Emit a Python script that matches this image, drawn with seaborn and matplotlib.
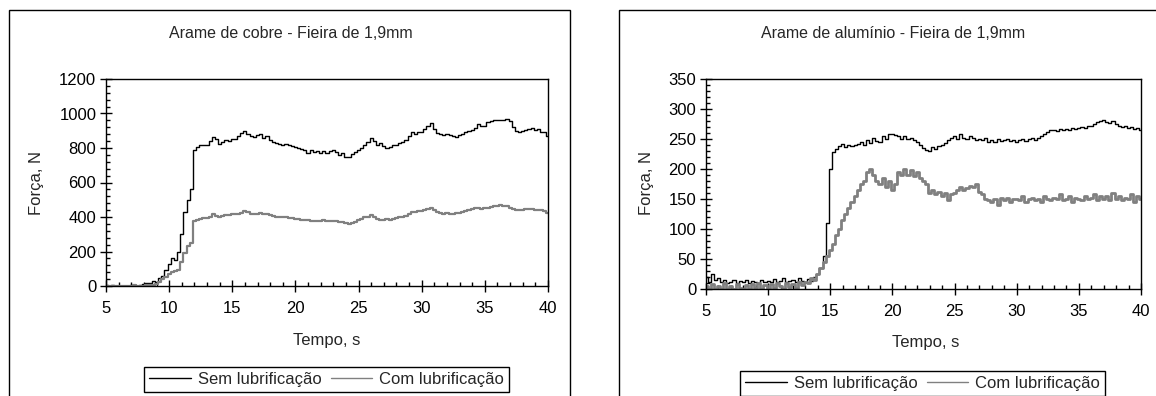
import numpy as np
import pandas as pd
import matplotlib
matplotlib.use("Agg")
import matplotlib.pyplot as plt
from matplotlib.patches import Rectangle
from matplotlib.ticker import MultipleLocator
import seaborn as sns

# ---------------- data (0.25 s sampling) ----------------
tempo = np.arange(5.0, 40.0001, 0.25)

cobre_sem = [
    8, 0, 5, 0,  0, 0, 0, 0,  5, 0, 0, 8,  10, 20, 15, 30,
    25, 45, 60, 90,  130, 160, 150, 200,  300, 430, 500, 560,
    790, 805, 820, 815,  820, 840, 865, 850,  825, 835, 845, 840,
    850, 855, 870, 885,  900, 880, 870, 865,  875, 880, 860, 870,
    845, 835, 830, 825,  820, 825, 815, 810,  805, 800, 795, 790,
    770, 790, 775, 780,  770, 785, 770, 780,  790, 775, 760, 770,
    745, 750, 765, 775,  790, 800, 815, 835,  860, 840, 820, 830,
    810, 800, 805, 815,  820, 830, 835, 845,  870, 890, 880, 895,
    895, 910, 925, 945,  910, 885, 880, 875,  880, 875, 870, 865,
    875, 880, 895, 900,  905, 915, 940, 930,  925, 950, 955, 960,
    965, 960, 965, 970,  955, 920, 900, 895,  900, 905, 910, 915,
    905, 910, 895, 890,  870,
]
cobre_com = [
    0, 0, 0, 0,  0, 0, 0, 0,  0, 3, 0, 0,  0, 5, 8, 5,
    12, 25, 40, 55,  70, 80, 85, 95,  140, 190, 230, 250,
    375, 385, 390, 395,  395, 400, 415, 405,  400, 405, 410, 410,
    415, 415, 420, 425,  435, 430, 420, 418,  420, 425, 418, 415,
    410, 405, 400, 400,  400, 398, 395, 392,  390, 388, 385, 382,
    380, 378, 375, 378,  375, 380, 378, 376,  378, 375, 372, 370,
    365, 362, 368, 372,  385, 390, 398, 402,  410, 400, 390, 385,
    382, 388, 385, 390,  395, 398, 400, 408,  420, 428, 430, 432,
    435, 440, 445, 452,  440, 430, 425, 420,  422, 418, 420, 422,
    425, 428, 432, 440,  445, 450, 452, 448,  450, 455, 458, 462,
    465, 468, 466, 465,  455, 445, 440, 440,  442, 445, 448, 445,
    440, 442, 438, 432,  425,
]
aluminio_sem = [
    20, 12, 25, 15,  18, 12, 15, 10,  12, 15, 10, 14,  12, 15, 10, 14,
    12, 10, 15, 12,  14, 12, 16, 12,  13, 18, 12, 14,  15, 12, 18, 14,
    12, 16, 14, 20,  25, 35, 55, 110,  200, 228, 234, 238,
    242, 236, 240, 238,  240, 242, 245, 240,  248, 244, 252, 246,
    245, 255, 250, 258,  258, 256, 255, 250,  255, 250, 252, 248,
    245, 240, 235, 232,  230, 236, 234, 238,  240, 244, 248, 252,
    255, 250, 258, 252,  250, 255, 252, 248,  250, 248, 252, 245,
    248, 245, 250, 246,  248, 250, 246, 248,  245, 248, 250, 246,
    250, 252, 248, 252,  255, 258, 262, 265,  265, 264, 266, 265,
    266, 265, 268, 266,  268, 270, 269, 272,  272, 275, 278, 280,
    282, 278, 276, 280,  275, 272, 270, 272,  268, 270, 266, 268,
    265,
]
aluminio_com = [
    5, 0, 8, 0,  5, 0, 10, 0,  5, 0, 8, 2,  0, 6, 0, 8,
    2, 10, 0, 6,  0, 8, 2, 10,  5, 0, 10, 4,  8, 2, 12, 6,
    12, 10, 18, 15,  25, 35, 45, 55,  65, 75, 90, 100,
    115, 125, 135, 145,  155, 165, 175, 180,  195, 200, 190, 180,
    175, 185, 170, 180,  165, 175, 195, 190,  200, 190, 198, 188,
    195, 185, 180, 175,  160, 165, 158, 162,  155, 160, 148, 158,
    160, 165, 170, 165,  168, 172, 170, 175,  162, 158, 150, 148,
    145, 150, 140, 152,  148, 152, 145, 150,  150, 148, 155, 145,
    150, 152, 148, 150,  145, 155, 150, 148,  152, 150, 158, 148,
    150, 155, 145, 152,  150, 148, 155, 150,  152, 158, 148, 155,
    150, 155, 148, 160,  150, 155, 148, 152,  150, 158, 145, 155,
    150,
]

series_labels = ["Sem lubrificação", "Com lubrificação"]
titles = ["Arame de cobre - Fieira de 1,9mm", "Arame de alumínio - Fieira de 1,9mm"]
xlabel = "Tempo, s"
ylabel = "Força, N"
xticks = [5, 10, 15, 20, 25, 30, 35, 40]
yticks_cobre = [0, 200, 400, 600, 800, 1000, 1200]
yticks_alum = [0, 50, 100, 150, 200, 250, 300, 350]

# ---------------- figure ----------------
sns.set_style("ticks")
plt.rcParams["font.family"] = ["Liberation Sans", "DejaVu Sans"]

W, H = 1156, 396
fig = plt.figure(figsize=(W / 100, H / 100), dpi=100)
fig.patch.set_facecolor("white")


def fx(px):
    return px / W


def fy(py):
    return 1 - py / H


# panel borders
for x0, x1 in [(9, 570), (619, 1170)]:
    fig.patches.append(Rectangle((fx(x0), fy(400)), fx(x1) - fx(x0), fy(10) - fy(400),
                                 transform=fig.transFigure, fill=False,
                                 edgecolor="black", linewidth=1.0, zorder=0))

ax1 = fig.add_axes([fx(106), fy(286), fx(548) - fx(106), fy(79) - fy(286)])
ax2 = fig.add_axes([fx(706), fy(289), fx(1141) - fx(706), fy(79) - fy(289)])

panels = [
    (ax1, cobre_sem, cobre_com, yticks_cobre, 40, 1.0, 1.6),
    (ax2, aluminio_sem, aluminio_com, yticks_alum, 10, 1.0, 2.0),
]

for ax, sem, com, yt, yminor, lw_sem, lw_com in panels:
    df = pd.DataFrame({"Tempo": tempo, "sem": sem, "com": com})
    sns.lineplot(data=df, x="Tempo", y="sem", ax=ax, color="black",
                 linewidth=lw_sem, label=series_labels[0], legend=False,
                 estimator=None, drawstyle="steps-mid")
    sns.lineplot(data=df, x="Tempo", y="com", ax=ax, color="#808080",
                 linewidth=lw_com, label=series_labels[1], legend=False,
                 estimator=None, drawstyle="steps-mid")
    ax.set_xlim(5, 40)
    ax.set_ylim(yt[0], yt[-1])
    ax.set_xticks(xticks)
    ax.set_yticks(yt)
    ax.xaxis.set_minor_locator(MultipleLocator(1))
    ax.yaxis.set_minor_locator(MultipleLocator(yminor))
    ax.set_xlabel("")
    ax.set_ylabel("")
    for s in ax.spines.values():
        s.set_visible(True)
        s.set_color("black")
        s.set_linewidth(1.0)
    ax.tick_params(axis="x", which="major", direction="inout", length=9,
                   width=1, labelsize=12, pad=6, colors="black")
    ax.tick_params(axis="y", which="major", direction="inout", length=8,
                   width=1, labelsize=12, pad=3, colors="black")
    ax.tick_params(which="minor", direction="in", length=3, width=1,
                   colors="black")
    ax.set_facecolor("white")

# titles, axis labels
fig.text(fx(291), fy(33), titles[0], ha="center", va="center", fontsize=11.5)
fig.text(fx(893), fy(33), titles[1], ha="center", va="center", fontsize=11.5)
fig.text(fx(327), fy(340), xlabel, ha="center", va="center", fontsize=12)
fig.text(fx(926), fy(343), xlabel, ha="center", va="center", fontsize=12)
fig.text(fx(37), fy(183), ylabel, ha="center", va="center", fontsize=12, rotation=90)
fig.text(fx(646), fy(183), ylabel, ha="center", va="center", fontsize=12, rotation=90)

# legends
for ax, cx, cy in [(ax1, 326.5, 379.5), (ax2, 922.5, 383.5)]:
    handles, labels = ax.get_legend_handles_labels()
    leg = fig.legend(handles, labels, loc="center", bbox_to_anchor=(fx(cx), fy(cy)),
                     bbox_transform=fig.transFigure, ncol=2, fontsize=12,
                     frameon=True, fancybox=False, shadow=False,
                     handlelength=2.5, handletextpad=0.4, columnspacing=0.55,
                     borderpad=0.3, framealpha=1)
    leg.get_frame().set_edgecolor("black")
    leg.get_frame().set_linewidth(1.0)
    for l in leg.get_lines():
        l.set_linewidth(1.0)
        l.set_drawstyle("default")

fig.savefig("out.png", dpi=100, facecolor="white")
